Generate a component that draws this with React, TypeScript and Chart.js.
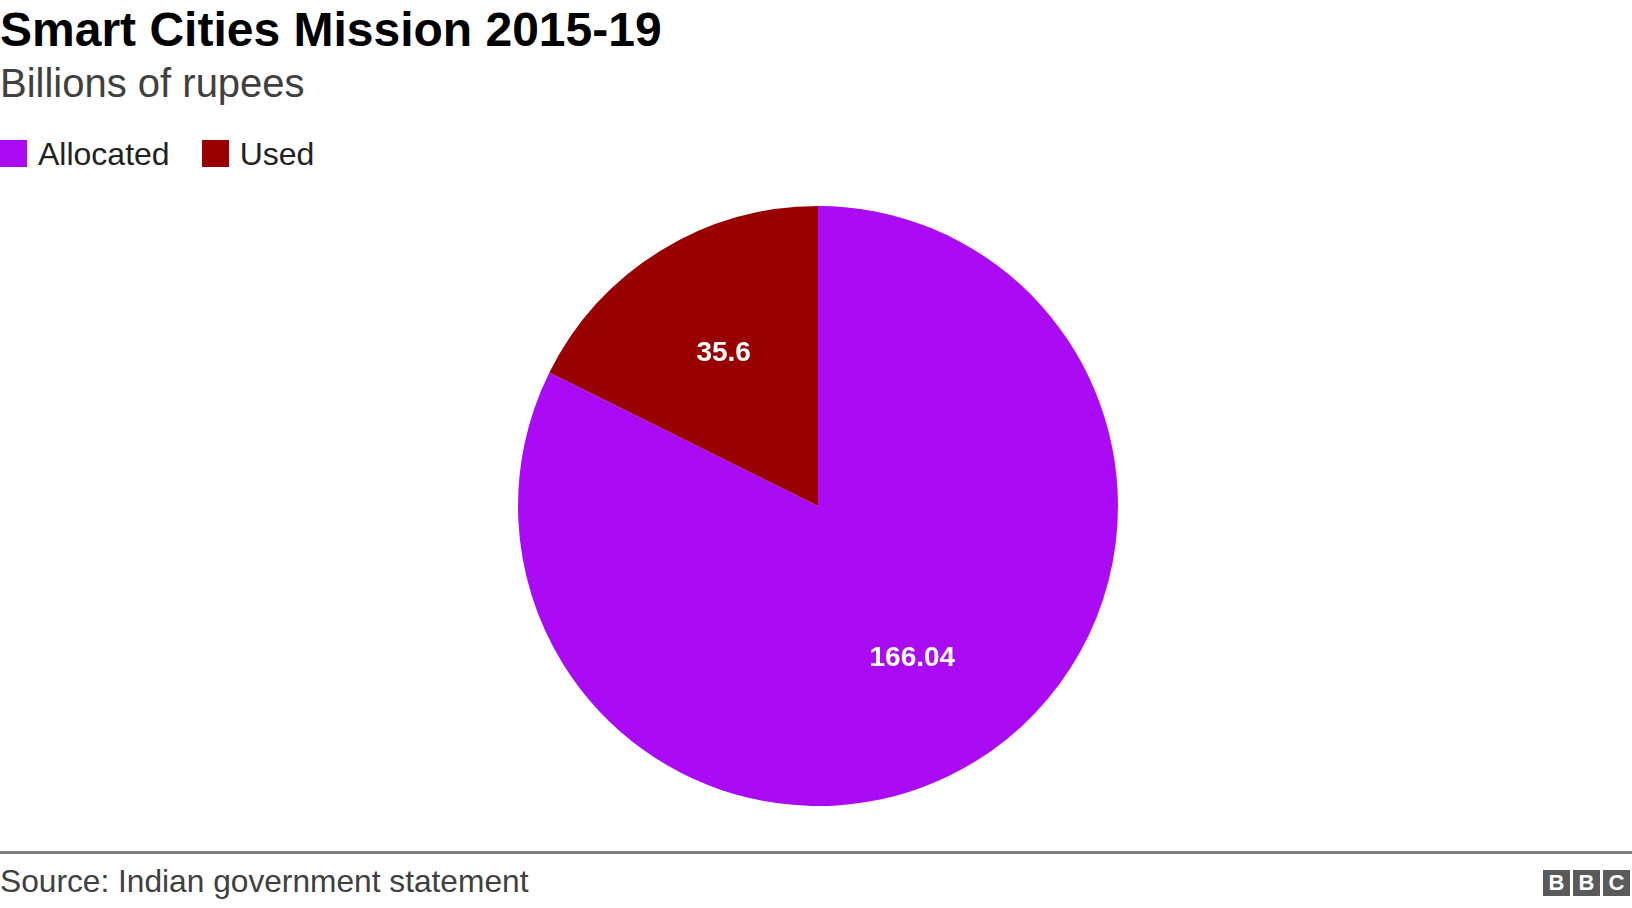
import React, { useEffect, useRef } from "react";
import { Chart, registerables } from "chart.js";

Chart.register(...registerables);

const categories = ["Allocated", "Used"];
const values = [166.04, 35.6];
const colors = ["#ab0af5", "#990000"];
const valueLabels = ["166.04", "35.6"];

const FONT = '"Liberation Sans", Arial, Helvetica, sans-serif';

const sliceLabels = {
  id: "sliceLabels",
  afterDatasetsDraw(chart: any) {
    const ctx = chart.ctx;
    const meta = chart.getDatasetMeta(0);
    ctx.save();
    ctx.fillStyle = "#ffffff";
    ctx.font = `bold 28px ${FONT}`;
    ctx.textAlign = "center";
    ctx.textBaseline = "middle";
    meta.data.forEach((arc: any, i: number) => {
      const p = arc.getProps(["x", "y", "startAngle", "endAngle", "outerRadius"], true);
      const mid = (p.startAngle + p.endAngle) / 2;
      const r = p.outerRadius * 0.597;
      ctx.fillText(valueLabels[i], p.x + Math.cos(mid) * r, p.y + Math.sin(mid) * r);
    });
    ctx.restore();
  },
};

export default function App() {
  const ref = useRef<HTMLCanvasElement | null>(null);

  useEffect(() => {
    document.body.style.margin = "0";
    document.body.style.background = "#ffffff";
    if (!ref.current) return;
    const chart = new Chart(ref.current, {
      type: "pie",
      data: {
        labels: categories,
        datasets: [
          {
            data: values,
            backgroundColor: colors,
            borderWidth: 0,
          },
        ],
      },
      options: {
        animation: false,
        responsive: true,
        maintainAspectRatio: false,
        layout: { padding: { left: 4, top: 1, bottom: 1, right: 0 } },
        plugins: {
          legend: { display: false },
          tooltip: { enabled: false },
          title: { display: false },
        },
      },
      plugins: [sliceLabels],
    });
    return () => chart.destroy();
  }, []);

  const text = (extra: React.CSSProperties): React.CSSProperties => ({
    position: "absolute",
    fontFamily: FONT,
    whiteSpace: "nowrap",
    margin: 0,
    ...extra,
  });

  return (
    <div style={{ position: "relative", width: 1632, height: 908, background: "#fff", overflow: "hidden" }}>
      <div style={text({ left: 0, top: 6, fontSize: 48, lineHeight: "48px", fontWeight: 700, color: "#000" })}>
        Smart Cities Mission 2015-19
      </div>
      <div style={text({ left: 0, top: 63, fontSize: 40, lineHeight: "40px", color: "#404040" })}>
        Billions of rupees
      </div>
      <div style={{ position: "absolute", left: 0, top: 140, height: 27, display: "flex" }}>
        {categories.map((c, i) => (
          <div key={c} style={{ display: "flex", alignItems: "flex-start", marginRight: 32 }}>
            <div style={{ width: 27, height: 27, background: colors[i], marginRight: 11 }} />
            <div
              style={{
                fontFamily: FONT,
                fontSize: 32,
                lineHeight: "32px",
                marginTop: -2,
                color: "#222",
                whiteSpace: "nowrap",
              }}
            >
              {c}
            </div>
          </div>
        ))}
      </div>
      <div style={{ position: "absolute", left: 0, top: 205, width: 1632, height: 602 }}>
        <canvas ref={ref} />
      </div>
      <div style={{ position: "absolute", left: 0, top: 851, width: 1632, height: 3, background: "#808080" }} />
      <div style={text({ left: 0, top: 865, fontSize: 31.7, lineHeight: "32px", color: "#404040" })}>
        Source: Indian government statement
      </div>
      <div style={{ position: "absolute", left: 1543, top: 870, display: "flex" }}>
        {["B", "B", "C"].map((l, i) => (
          <div
            key={i}
            style={{
              width: 27,
              height: 26,
              marginRight: 3,
              background: "#5a5a5a",
              color: "#fff",
              fontFamily: FONT,
              fontWeight: 700,
              fontSize: 22,
              lineHeight: "26px",
              textAlign: "center",
            }}
          >
            {l}
          </div>
        ))}
      </div>
    </div>
  );
}
